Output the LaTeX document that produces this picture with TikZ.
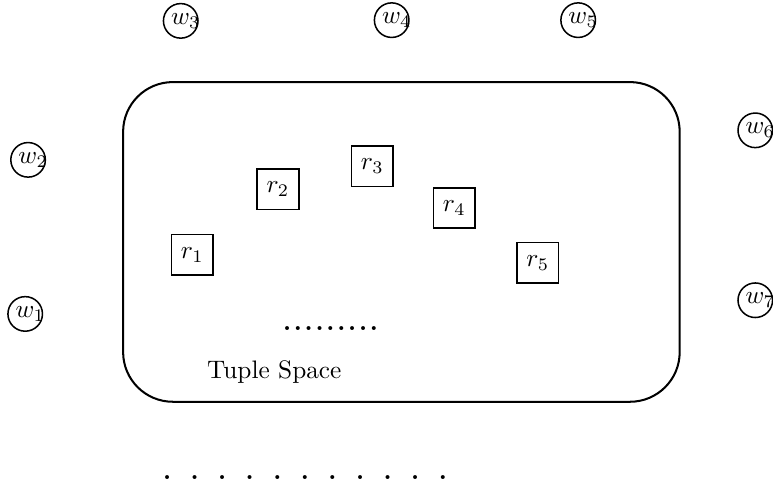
\documentclass[tikz,border=0pt]{standalone}
\usepackage{tikz}
\tikzset{
  worker/.style={circle, draw, semithick, minimum size=0.48cm, inner sep=0pt,
                 label={[xshift=2pt]center:#1}},
  tuple/.style={draw, semithick, minimum width=0.58cm, minimum height=0.56cm, inner sep=0pt}
}
\begin{document}
\begin{tikzpicture}
                \useasboundingbox (0,0) rectangle (10.736,-6.736);

                % the space
                \draw [thick, rounded corners=0.69cm] (1.71,-1.14) rectangle (9.44,-5.58);
                \node (ts) at (3.81,-5.17) {Tuple Space};

                % tuples
                \node [tuple] (r1) at (2.67,-3.54) {$r_1$};
                \node [tuple] (r2) at (3.86,-2.63) {$r_2$};
                \node [tuple] (r3) at (5.17,-2.31) {$r_3$};
                \node [tuple] (r4) at (6.31,-2.89) {$r_4$};
                \node [tuple] (r5) at (7.47,-3.65) {$r_5$};
                \node [font=\bfseries] (more) at (4.59,-4.56)
                    {.\kern1.1pt.\kern1.1pt.\kern1.1pt.\kern1.1pt.\kern1.1pt.\kern1.1pt.\kern1.1pt.\kern1.1pt.};

                % workers
                \node [worker=$w_1$] (w1) at (0.35,-4.36) {};
                \node [worker=$w_2$] (w2) at (0.39,-2.22) {};
                \node [worker=$w_3$] (w3) at (2.51,-0.29) {};
                \node [worker=$w_4$] (w4) at (5.44,-0.28) {};
                \node [worker=$w_5$] (w5) at (8.03,-0.28) {};
                \node [worker=$w_6$] (w6) at (10.49,-1.81) {};
                \node [worker=$w_7$] (w7) at (10.49,-4.17) {};

                \foreach \i in {0,...,10}
                    \node [font=\bfseries] (dot\i) at ({2.32+\i*0.383},-6.63) {.};
\end{tikzpicture}
\end{document}
